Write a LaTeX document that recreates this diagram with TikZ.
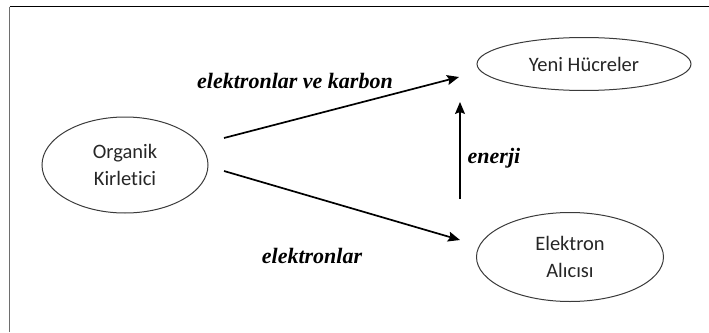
\documentclass[tikz,border=0pt]{standalone}
\usepackage{fontspec}
\setmainfont{Liberation Serif}
\newfontfamily\cellfont[Ligatures=NoCommon]{Carlito}
\usepackage{tikz}
\usetikzlibrary{shapes.geometric,arrows.meta}
\definecolor{bioline}{HTML}{3A3A3A}
\definecolor{biotext}{HTML}{262626}
\definecolor{bioframe}{HTML}{6E6E6E}
\tikzset{
    cell/.style={
        ellipse, draw=bioline, line width=1pt,
        inner sep=0pt, align=center, text=biotext,
        font=\cellfont\fontsize{20.5}{27}\selectfont
    },
    flow/.style={-{Stealth[length=12pt,width=10pt,inset=2pt]}, line width=1.7pt},
    energyflow/.style={-{Stealth[length=12pt,width=10pt,inset=2pt]}, line width=1.1pt},
    flowlabel/.style={anchor=base, font=\fontsize{22}{26}\selectfont\bfseries\itshape},
}

\begin{document}
\begin{tikzpicture}[x=1pt, y=-1pt]

    \useasboundingbox (0,0) rectangle (709,332);

    % Frame
    \draw[bioframe, line width=1.8pt] (9.5,332) -- (9.5,6.5);
    \draw[black, line width=1pt] (9.5,6.5) -- (709,6.5);

    % Nodes
    \node[cell, minimum width=166pt, minimum height=96pt] (org) at (125,165)
        {Organik\\Kirletici};

    \node[cell, minimum width=214pt, minimum height=53pt] (yeni) at (584,64)
        {Yeni Hücreler};

    \node[cell, minimum width=187pt, minimum height=89pt] (alici) at (570,257)
        {Elektron\\Alıcısı};

    % Arrow ends
    \coordinate (upStart)   at (224,138);
    \coordinate (upEnd)     at (459,77);
    \coordinate (downStart) at (224,171);
    \coordinate (downEnd)   at (460,240);
    \coordinate (enStart)   at (460,199);
    \coordinate (enEnd)     at (460,102);

    % Arrows
    \draw[flow] (upStart) -- (upEnd);
    \draw[flow] (downStart) -- (downEnd);
    \draw[energyflow] (enStart) -- (enEnd);

    % Arrow labels
    \node[flowlabel] (lblCarbon) at (295,88)  {elektronlar ve karbon};
    \node[flowlabel] (lblEnergy) at (494,163) {enerji};
    \node[flowlabel] (lblElec)   at (312,263) {elektronlar};

\end{tikzpicture}
\end{document}
